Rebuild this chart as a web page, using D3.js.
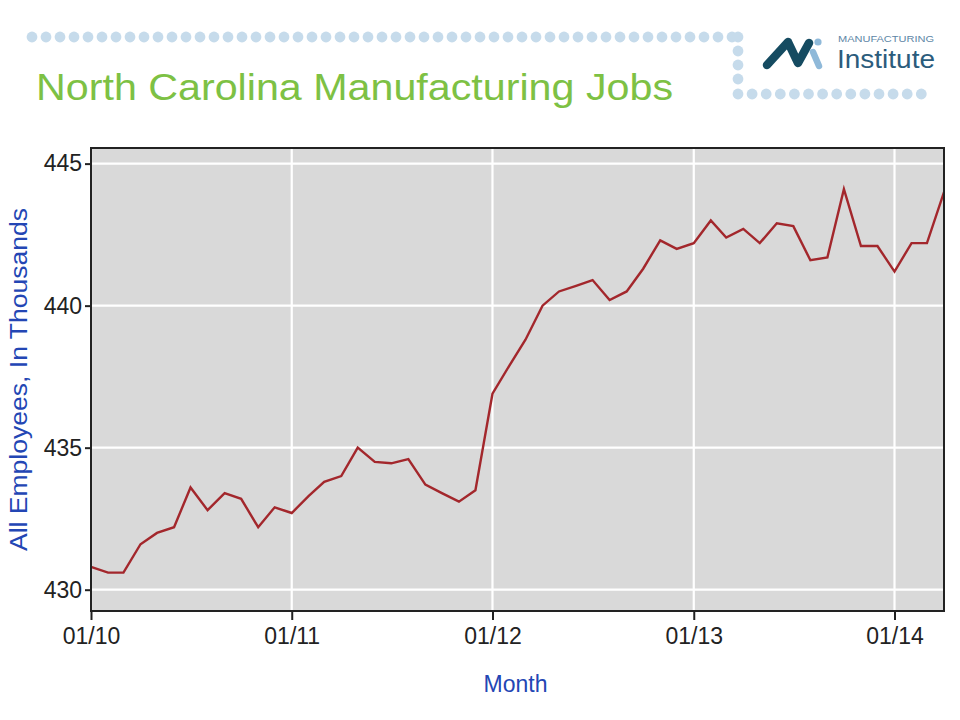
<!DOCTYPE html>
<html>
<head>
<meta charset="utf-8">
<script src="https://cdn.jsdelivr.net/npm/d3@7"></script>
<style>
  html, body { margin: 0; padding: 0; background: #ffffff; }
  svg { display: block; }
</style>
</head>
<body>
<div id="chart"></div>
<script>
// ---- Data ----
const months = [
  "2010-01","2010-02","2010-03","2010-04","2010-05","2010-06","2010-07","2010-08","2010-09","2010-10","2010-11","2010-12",
  "2011-01","2011-02","2011-03","2011-04","2011-05","2011-06","2011-07","2011-08","2011-09","2011-10","2011-11","2011-12",
  "2012-01","2012-02","2012-03","2012-04","2012-05","2012-06","2012-07","2012-08","2012-09","2012-10","2012-11","2012-12",
  "2013-01","2013-02","2013-03","2013-04","2013-05","2013-06","2013-07","2013-08","2013-09","2013-10","2013-11","2013-12",
  "2014-01","2014-02","2014-03","2014-04"
];
const employees = [
  430.8, 430.6, 430.6, 431.6, 432.0, 432.2, 433.6, 432.8, 433.4, 433.2, 432.2, 432.9,
  432.7, 433.3, 433.8, 434.0, 435.0, 434.5, 434.45, 434.6, 433.7, 433.4, 433.1, 433.5,
  436.9, 437.9, 438.8, 440.0, 440.5, 440.7, 440.9, 440.2, 440.5, 441.3, 442.3, 442.0,
  442.2, 443.0, 442.4, 442.7, 442.2, 442.9, 442.8, 441.6, 441.7, 444.1, 442.1, 442.1,
  441.2, 442.2, 442.2, 444.0
];
const yTicks = [430, 435, 440, 445];
const xTickMonths = ["2010-01","2011-01","2012-01","2013-01","2014-01"];
const xTickLabels = ["01/10","01/11","01/12","01/13","01/14"];
const titleText = "North Carolina Manufacturing Jobs";
const yAxisTitle = "All Employees, In Thousands";
const xAxisTitle = "Month";

// ---- Setup ----
const W = 960, H = 720;
const svg = d3.select("#chart").append("svg").attr("width", W).attr("height", H);
const parse = d3.timeParse("%Y-%m");
const data = months.map((m, i) => ({ date: parse(m), value: employees[i] }));

const plot = { left: 91, right: 944, top: 148, bottom: 611 };

const x = d3.scaleTime()
  .domain([parse(months[0]), parse(months[months.length - 1])])
  .range([plot.left, plot.right]);
const y = d3.scaleLinear()
  .domain([429.25, 445.55])
  .range([plot.bottom, plot.top]);

// ---- Decorative dots ----
const dotColor = "#c6dbeb";
const topRow = d3.range(0, 51).map(k => [32 + k * 14, 37]);
const column = [[738, 37], [738, 51], [738, 65], [738, 79]];
const bottomRow = d3.range(0, 14).map(k => [738 + k * 14.1, 94]);
svg.append("g").selectAll("circle")
  .data(topRow.concat(column, bottomRow))
  .join("circle")
  .attr("cx", d => d[0]).attr("cy", d => d[1]).attr("r", 5.4)
  .attr("fill", dotColor);

// ---- Logo ----
const logo = svg.append("g");
logo.append("path")
  .attr("d", "M767,65 L788,42 L798,63 L809,43")
  .attr("fill", "none").attr("stroke", "#154b61").attr("stroke-width", 8.5)
  .attr("stroke-linecap", "round").attr("stroke-linejoin", "round");
logo.append("path")
  .attr("d", "M813,52 L819,66")
  .attr("fill", "none").attr("stroke", "#8fb9d9").attr("stroke-width", 6.5)
  .attr("stroke-linecap", "round");
logo.append("circle").attr("cx", 818).attr("cy", 42).attr("r", 3.6).attr("fill", "#8fb9d9");
logo.append("text")
  .attr("x", 838).attr("y", 42)
  .attr("textLength", 96).attr("lengthAdjust", "spacingAndGlyphs")
  .style("font-family", "Liberation Sans, Arial, sans-serif")
  .style("font-size", "8.5px").attr("fill", "#5d86a6")
  .text("MANUFACTURING");
logo.append("text")
  .attr("x", 837).attr("y", 68)
  .attr("textLength", 98).attr("lengthAdjust", "spacingAndGlyphs")
  .style("font-family", "Liberation Sans, Arial, sans-serif")
  .style("font-size", "25px").attr("fill", "#2b5c7c")
  .text("Institute");

// ---- Title ----
svg.append("text")
  .attr("x", 36).attr("y", 100)
  .attr("textLength", 637).attr("lengthAdjust", "spacingAndGlyphs")
  .style("font-family", "Liberation Sans, Arial, sans-serif")
  .style("font-size", "37px").attr("fill", "#7dc144")
  .text(titleText);

// ---- Plot background ----
svg.append("rect")
  .attr("x", plot.left).attr("y", plot.top)
  .attr("width", plot.right - plot.left).attr("height", plot.bottom - plot.top)
  .attr("fill", "#d9d9d9");

// Gridlines
svg.append("g").selectAll("line.h")
  .data(yTicks).join("line")
  .attr("x1", plot.left).attr("x2", plot.right)
  .attr("y1", d => y(d)).attr("y2", d => y(d))
  .attr("stroke", "#ffffff").attr("stroke-width", 2.2);
svg.append("g").selectAll("line.v")
  .data(xTickMonths).join("line")
  .attr("x1", d => x(parse(d))).attr("x2", d => x(parse(d)))
  .attr("y1", plot.top).attr("y2", plot.bottom)
  .attr("stroke", "#ffffff").attr("stroke-width", 2.2);

// ---- Line ----
const line = d3.line().x(d => x(d.date)).y(d => y(d.value));
svg.append("path")
  .datum(data)
  .attr("d", line)
  .attr("fill", "none")
  .attr("stroke", "#a3272c")
  .attr("stroke-width", 2.4)
  .attr("stroke-linejoin", "miter");

// ---- Frame ----
svg.append("rect")
  .attr("x", plot.left).attr("y", plot.top)
  .attr("width", plot.right - plot.left).attr("height", plot.bottom - plot.top)
  .attr("fill", "none").attr("stroke", "#222222").attr("stroke-width", 2);

// ---- Axes ----
const yAxis = d3.axisLeft(y).tickValues(yTicks).tickSize(6).tickPadding(3).tickFormat(d3.format("d"));
const gy = svg.append("g").attr("transform", `translate(${plot.left},0)`).call(yAxis);
gy.select(".domain").remove();
gy.selectAll(".tick line").attr("stroke", "#222").attr("stroke-width", 2);
gy.selectAll(".tick text")
  .style("font-family", "Liberation Sans, Arial, sans-serif")
  .style("font-size", "23px").attr("fill", "#222");

const xAxis = d3.axisBottom(x)
  .tickValues(xTickMonths.map(parse))
  .tickSize(9).tickPadding(8)
  .tickFormat((d, i) => xTickLabels[i]);
const gx = svg.append("g").attr("transform", `translate(0,${plot.bottom})`).call(xAxis);
gx.select(".domain").remove();
gx.selectAll(".tick line").attr("stroke", "#222").attr("stroke-width", 2);
gx.selectAll(".tick text")
  .style("font-family", "Liberation Sans, Arial, sans-serif")
  .style("font-size", "23px").attr("fill", "#222");

// ---- Axis titles ----
svg.append("text")
  .attr("transform", `translate(27,${(plot.top + plot.bottom) / 2}) rotate(-90)`)
  .attr("text-anchor", "middle")
  .attr("textLength", 343).attr("lengthAdjust", "spacingAndGlyphs")
  .style("font-family", "Liberation Sans, Arial, sans-serif")
  .style("font-size", "23px").attr("fill", "#2346b4")
  .text(yAxisTitle);
svg.append("text")
  .attr("x", (plot.left + plot.right) / 2 - 2).attr("y", 692)
  .attr("text-anchor", "middle")
  .style("font-family", "Liberation Sans, Arial, sans-serif")
  .style("font-size", "23px").attr("fill", "#2346b4")
  .text(xAxisTitle);
</script>
</body>
</html>
